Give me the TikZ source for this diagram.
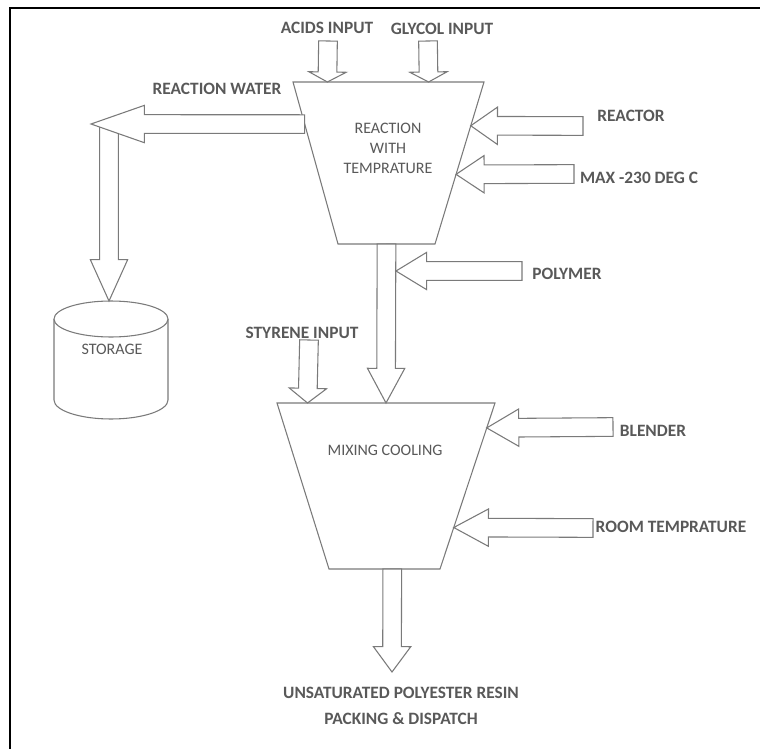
\documentclass[tikz,border=0pt]{standalone}
\usepackage{fontspec}
\setmainfont{Carlito}
\usetikzlibrary{calc}

\definecolor{linegray}{HTML}{7A7A7A}
\definecolor{textgray}{HTML}{595959}

\tikzset{
  lbl/.style={font=\bfseries\fontsize{13}{19}\selectfont, text=textgray, inner sep=0pt},
  body/.style={font=\fontsize{12}{15}\selectfont, text=textgray, align=center, inner sep=0pt},
  vessel/.style={draw=linegray, line width=0.8pt, fill=white},
  flow/.style={draw=linegray, line width=0.8pt, fill=white, line join=miter},
}

% block arrow from #2 to #3, #1 = head length
\newcommand{\flowarrow}[3][20pt]{%
  \coordinate (fa-h) at ($(#3)!#1!(#2)$);
  \path[flow] ($(#2)!7pt!90:(#3)$) -- ($(fa-h)!7pt!90:(#3)$) -- ($(fa-h)!14pt!90:(#3)$)
    -- (#3) -- ($(fa-h)!14pt!-90:(#3)$) -- ($(fa-h)!7pt!-90:(#3)$) -- ($(#2)!7pt!-90:(#3)$) -- cycle;}

\begin{document}
\begin{tikzpicture}[x=0.75pt,y=-0.75pt]
\useasboundingbox (0,0) rectangle (760,749);
\draw[line width=1.6pt] (10,749) -- (10,8) -- (760,8);

% reactor
\coordinate (rtl) at (293,82);
\coordinate (rtr) at (484,82);
\coordinate (rbr) at (435,244);
\coordinate (rbl) at (338,244);
\draw[vessel] (rtl) -- (rtr) -- (rbr) -- (rbl) -- cycle;
\node[body] (reaction) at (388,148) {REACTION\\WITH\\TEMPRATURE};

% mixer
\coordinate (mtl) at (277,403);
\coordinate (mtr) at (495,403);
\coordinate (mbr) at (440,569);
\coordinate (mbl) at (329,569);
\draw[vessel] (mtl) -- (mtr) -- (mbr) -- (mbl) -- cycle;
\node[body] (mixing) at (385,450) {MIXING COOLING};

% storage
\draw[vessel] (54,319) -- (54,400) arc[start angle=180, end angle=360, x radius=42.75pt, y radius=14.25pt] -- (168,319);
\draw[vessel] (111,319) ellipse [x radius=57, y radius=18];
\node[body] (storage) at (112,349) {STORAGE};
\coordinate (cyl-top) at (109,301);

% labels
\node[lbl] (acids) at (327,28) {ACIDS INPUT};
\node[lbl] (glycol) at (442,29) {GLYCOL INPUT};
\node[lbl] (water) at (217,89) {REACTION WATER};
\node[lbl] (reactor) at (631,116) {REACTOR};
\node[lbl] (maxtemp) at (639,178) {MAX -230 DEG C};
\node[lbl] (polymer) at (567,274) {POLYMER};
\node[lbl] (styrene) at (302,333) {STYRENE INPUT};
\node[lbl] (blender) at (653,431) {BLENDER};
\node[lbl] (room) at (671,527) {ROOM TEMPRATURE};
\node[lbl, align=center] (resin) at (401,706) {UNSATURATED POLYESTER RESIN\\PACKING \& DISPATCH};

% arrow ends
\coordinate (acids-in) at (328,41);
\coordinate (acids-tip) at ($(rtl)!0.18!(rtr)$);
\coordinate (glycol-in) at (428,41);
\coordinate (glycol-tip) at ($(rtl)!0.71!(rtr)$);
\coordinate (water-out) at ($(rtl)!0.26!(rbl)$);
\coordinate (water-tip) at (91,124);
\coordinate (water-drop) at (109,124);
\coordinate (reactor-in) at (583,126);
\coordinate (reactor-tip) at ($(rtr)!0.27!(rbr)$);
\coordinate (max-in) at (574,174);
\coordinate (max-tip) at ($(rtr)!0.57!(rbr)$);
\coordinate (reactor-out) at ($(rbl)!0.5!(rbr)$);
\coordinate (mixer-in) at ($(mtl)!0.5!(mtr)$);
\coordinate (polymer-in) at (522,271);
\coordinate (polymer-tip) at (396,271);
\coordinate (styrene-in) at (309,340);
\coordinate (styrene-tip) at ($(mtl)!0.14!(mtr)$);
\coordinate (blender-in) at (613,427);
\coordinate (blender-tip) at ($(mtr)!0.15!(mbr)$);
\coordinate (room-in) at (593,528);
\coordinate (room-tip) at ($(mtr)!0.75!(mbr)$);
\coordinate (mixer-out) at ($(mbl)!0.57!(mbr)$);
\coordinate (resin-tip) at (392,672);

% flows
\flowarrow[7.5pt]{acids-in}{acids-tip}
\flowarrow[7.5pt]{glycol-in}{glycol-tip}
\flowarrow[31pt]{water-drop}{cyl-top}
\flowarrow[40pt]{water-out}{water-tip}
\flowarrow[20pt]{reactor-in}{reactor-tip}
\flowarrow[21pt]{max-in}{max-tip}
\flowarrow[26pt]{reactor-out}{mixer-in}
\flowarrow[23pt]{polymer-in}{polymer-tip}
\flowarrow[11pt]{styrene-in}{styrene-tip}
\flowarrow[24pt]{blender-in}{blender-tip}
\flowarrow[26pt]{room-in}{room-tip}
\flowarrow[19pt]{mixer-out}{resin-tip}
\end{tikzpicture}
\end{document}
